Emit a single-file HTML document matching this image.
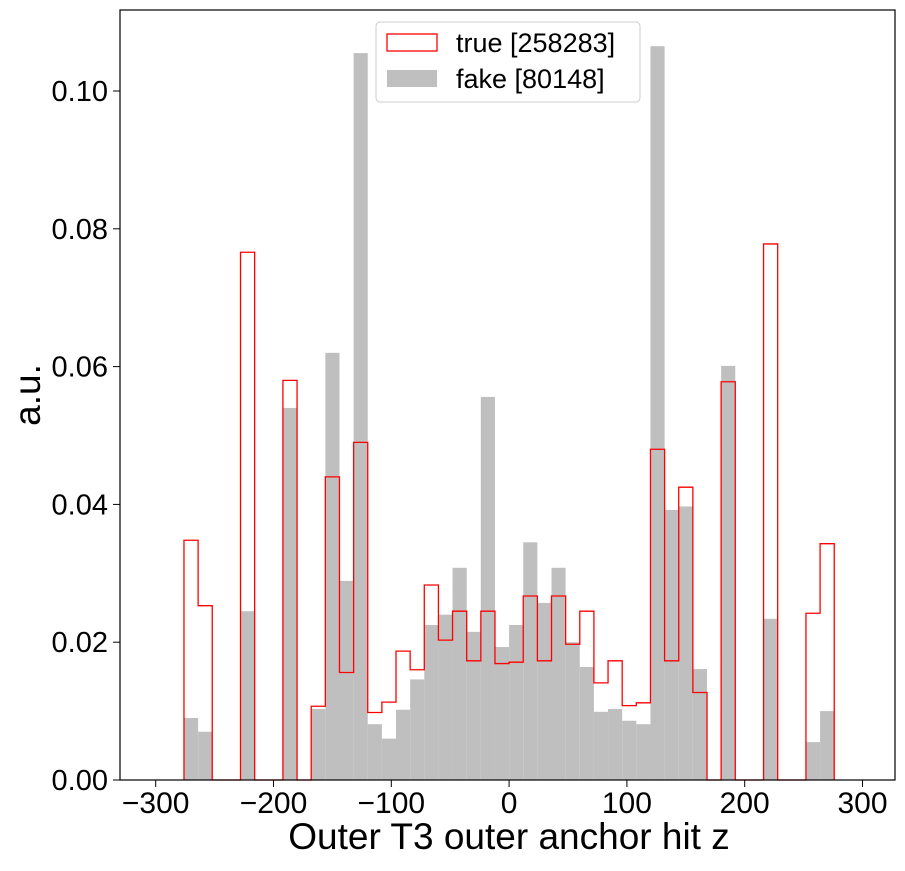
<!DOCTYPE html>
<html><head><meta charset="utf-8"><style>
body{margin:0;background:#fff;}
svg text{font-family:"Liberation Sans","DejaVu Sans",sans-serif;fill:#000;}
</style></head><body>
<svg id="s" width="905" height="866" xmlns="http://www.w3.org/2000/svg"></svg>
<script>
const T=new Array(50).fill(0),F=new Array(50).fill(0);
const set=(i,t,f)=>{T[i]=t;F[i]=f;};
set(2,0.0348,0.009);set(3,0.0253,0.007);set(6,0.0766,0.0245);set(9,0.058,0.054);
const mid=[[0.0107,0.0103],[0.044,0.062],[0.0156,0.0289],[0.049,0.1055],[0.0098,0.0081],[0.0113,0.006],[0.0187,0.0102],[0.016,0.0146],[0.0283,0.0225],[0.0203,0.024],[0.0245,0.0308],[0.0173,0.0215],[0.0245,0.0556],[0.0169,0.0193],[0.0171,0.0225],[0.0267,0.0345],[0.0173,0.0257],[0.0267,0.0308],[0.0197,0.02],[0.0245,0.0164],[0.0141,0.0099],[0.0173,0.0103],[0.0108,0.0086],[0.0112,0.0081],[0.048,0.1065],[0.0173,0.0392],[0.0425,0.0397],[0.0127,0.0161]];
mid.forEach((p,k)=>set(11+k,p[0],p[1]));
set(40,0.0578,0.0601);set(43,0.0778,0.0234);set(46,0.0242,0.0055);set(47,0.0343,0.01);
const X=v=>509.1+1.178*v, Y=v=>780-6890*v;
let h='';
for(let i=0;i<50;i++){if(F[i]>0){const x0=X(-300+12*i),x1=X(-288+12*i);h+=`<rect x="${x0}" y="${Y(F[i])}" width="${x1-x0}" height="${780-Y(F[i])}" fill="#bfbfbf"/>`;}}
let d=`M${X(-276)},780`;
for(let i=2;i<48;i++){d+=` L${X(-300+12*i)},${Y(T[i])} L${X(-288+12*i)},${Y(T[i])}`;}
d+=` L${X(276)},780`;
h+=`<path d="${d}" fill="none" stroke="#f00" stroke-width="1.3"/>`;
h+='<rect x="120" y="10" width="775" height="770" fill="none" stroke="#000" stroke-width="1.2"/>';
for(let v=-300;v<=300;v+=100){const x=X(v);h+=`<line x1="${x}" y1="780" x2="${x}" y2="787" stroke="#000"/><text x="${x}" y="813" font-size="30" text-anchor="middle">${v<0?'\u2212'+(-v):v}</text>`;}
for(let k=0;k<=5;k++){const v=k*0.02,y=Y(v);h+=`<line x1="113" y1="${y}" x2="120" y2="${y}" stroke="#000"/><text x="108" y="${y+10}" font-size="29" text-anchor="end">${v.toFixed(2)}</text>`;}
h+='<text x="509" y="849" font-size="37" text-anchor="middle">Outer T3 outer anchor hit z</text>';
h+='<text transform="translate(40,395) rotate(-90)" font-size="37" text-anchor="middle">a.u.</text>';
h+='<rect x="376" y="22" width="264" height="80" rx="4" fill="#fff" stroke="#ccc"/>';
h+='<rect x="387" y="34" width="50" height="17" fill="none" stroke="#f00" stroke-width="1.3"/>';
h+='<text x="456" y="52" font-size="27">true [258283]</text>';
h+='<rect x="387" y="70" width="50" height="17" fill="#bfbfbf"/>';
h+='<text x="456" y="88" font-size="27">fake [80148]</text>';
document.getElementById('s').innerHTML=h;
</script>
</body></html>
